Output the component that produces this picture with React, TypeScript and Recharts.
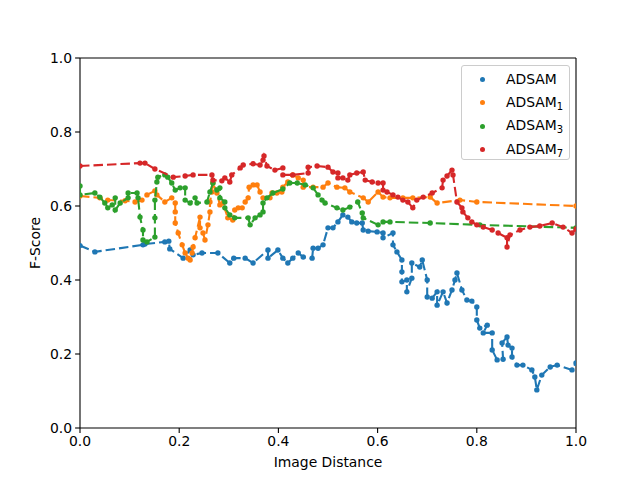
import React from "react";
import {
  ScatterChart, Scatter, XAxis, YAxis, ReferenceLine, Label,
} from "recharts";

const ticks = [0, 0.2, 0.4, 0.6, 0.8, 1.0];

const adsam = [
  [0.0, 0.493], [0.03, 0.476], [0.127, 0.495], [0.131, 0.497], [0.171, 0.503],
  [0.179, 0.505], [0.181, 0.484], [0.208, 0.459], [0.222, 0.481], [0.228, 0.468],
  [0.246, 0.473], [0.278, 0.473], [0.302, 0.446], [0.31, 0.459], [0.333, 0.459],
  [0.349, 0.446], [0.379, 0.481], [0.379, 0.459], [0.399, 0.481], [0.409, 0.459],
  [0.419, 0.446], [0.429, 0.459], [0.44, 0.473], [0.45, 0.462], [0.468, 0.459],
  [0.47, 0.486], [0.48, 0.486], [0.49, 0.495], [0.5, 0.541], [0.51, 0.541],
  [0.52, 0.557], [0.53, 0.576], [0.54, 0.57], [0.548, 0.557], [0.558, 0.554],
  [0.569, 0.554], [0.571, 0.535], [0.581, 0.532], [0.599, 0.53], [0.611, 0.527],
  [0.611, 0.514], [0.631, 0.527], [0.631, 0.495], [0.639, 0.476], [0.649, 0.454],
  [0.649, 0.422], [0.649, 0.395], [0.659, 0.4], [0.659, 0.368], [0.669, 0.405],
  [0.669, 0.446], [0.685, 0.435], [0.69, 0.454], [0.7, 0.4], [0.7, 0.354],
  [0.71, 0.351], [0.72, 0.368], [0.72, 0.332], [0.732, 0.368], [0.74, 0.338],
  [0.75, 0.373], [0.756, 0.4], [0.76, 0.419], [0.77, 0.373], [0.78, 0.346],
  [0.79, 0.343], [0.8, 0.327], [0.8, 0.292], [0.806, 0.27], [0.821, 0.278],
  [0.813, 0.257], [0.831, 0.257], [0.831, 0.211], [0.841, 0.184], [0.853, 0.186],
  [0.851, 0.23], [0.861, 0.246], [0.863, 0.224], [0.871, 0.216], [0.871, 0.192],
  [0.881, 0.17], [0.893, 0.17], [0.911, 0.157], [0.917, 0.138], [0.921, 0.103],
  [0.931, 0.143], [0.948, 0.165], [0.962, 0.17], [0.992, 0.157], [1.0, 0.176],
];

const adsam1 = [
  [0.0, 0.627], [0.04, 0.622], [0.056, 0.616], [0.091, 0.614], [0.111, 0.611],
  [0.125, 0.616], [0.135, 0.63], [0.151, 0.641], [0.155, 0.63], [0.171, 0.611],
  [0.185, 0.622], [0.192, 0.608], [0.192, 0.584], [0.192, 0.554], [0.198, 0.527],
  [0.206, 0.495], [0.212, 0.473], [0.218, 0.459], [0.222, 0.454], [0.226, 0.473],
  [0.228, 0.489], [0.232, 0.514], [0.242, 0.57], [0.242, 0.541], [0.248, 0.527],
  [0.252, 0.508], [0.258, 0.549], [0.262, 0.584], [0.262, 0.611], [0.266, 0.638],
  [0.268, 0.662], [0.276, 0.635], [0.282, 0.603], [0.288, 0.608], [0.298, 0.568],
  [0.308, 0.562], [0.312, 0.589], [0.319, 0.595], [0.327, 0.595], [0.333, 0.611],
  [0.339, 0.622], [0.341, 0.651], [0.349, 0.657], [0.357, 0.657], [0.363, 0.638],
  [0.369, 0.622], [0.383, 0.622], [0.387, 0.635], [0.397, 0.635], [0.407, 0.638],
  [0.409, 0.651], [0.419, 0.665], [0.429, 0.684], [0.44, 0.676], [0.45, 0.67],
  [0.45, 0.651], [0.47, 0.651], [0.49, 0.651], [0.5, 0.662], [0.518, 0.651],
  [0.534, 0.649], [0.544, 0.638], [0.571, 0.622], [0.581, 0.611], [0.601, 0.638],
  [0.611, 0.624], [0.625, 0.622], [0.651, 0.622], [0.671, 0.622], [0.706, 0.624],
  [0.72, 0.608], [0.766, 0.616], [0.8, 0.611], [1.0, 0.6],
];

const adsam3 = [
  [0.0, 0.654], [0.0, 0.63], [0.03, 0.635], [0.04, 0.624], [0.05, 0.608],
  [0.056, 0.595], [0.065, 0.603], [0.071, 0.622], [0.071, 0.589], [0.081, 0.608],
  [0.097, 0.622], [0.097, 0.635], [0.115, 0.635], [0.117, 0.622], [0.121, 0.57],
  [0.127, 0.535], [0.127, 0.508], [0.135, 0.503], [0.151, 0.516], [0.151, 0.568],
  [0.151, 0.616], [0.155, 0.665], [0.157, 0.678], [0.171, 0.684], [0.177, 0.678],
  [0.185, 0.662], [0.192, 0.643], [0.202, 0.649], [0.212, 0.649], [0.212, 0.616],
  [0.222, 0.608], [0.232, 0.622], [0.236, 0.608], [0.256, 0.611], [0.262, 0.638],
  [0.268, 0.662], [0.276, 0.643], [0.282, 0.649], [0.282, 0.622], [0.292, 0.611],
  [0.292, 0.595], [0.302, 0.576], [0.312, 0.568], [0.339, 0.568], [0.343, 0.549],
  [0.353, 0.568], [0.363, 0.576], [0.369, 0.584], [0.369, 0.608], [0.377, 0.622],
  [0.389, 0.635], [0.409, 0.646], [0.423, 0.662], [0.438, 0.662], [0.454, 0.657],
  [0.47, 0.649], [0.48, 0.63], [0.488, 0.616], [0.494, 0.608], [0.518, 0.595],
  [0.53, 0.589], [0.544, 0.597], [0.56, 0.611], [0.569, 0.581], [0.571, 0.568],
  [0.601, 0.549], [0.611, 0.557], [0.625, 0.557], [0.706, 0.554], [0.806, 0.549],
  [1.0, 0.541],
];

const adsam7 = [
  [0.0, 0.708], [0.121, 0.716], [0.131, 0.716], [0.151, 0.7], [0.188, 0.678],
  [0.212, 0.681], [0.228, 0.684], [0.266, 0.684], [0.268, 0.67], [0.286, 0.668],
  [0.292, 0.676], [0.302, 0.665], [0.306, 0.684], [0.323, 0.703], [0.329, 0.711],
  [0.349, 0.714], [0.363, 0.711], [0.369, 0.724], [0.371, 0.735], [0.377, 0.708],
  [0.393, 0.697], [0.409, 0.703], [0.409, 0.684], [0.429, 0.684], [0.46, 0.689],
  [0.46, 0.705], [0.478, 0.708], [0.5, 0.705], [0.51, 0.692], [0.52, 0.689],
  [0.52, 0.676], [0.53, 0.676], [0.54, 0.67], [0.544, 0.684], [0.558, 0.689],
  [0.571, 0.692], [0.575, 0.67], [0.589, 0.665], [0.601, 0.662], [0.611, 0.662],
  [0.611, 0.643], [0.619, 0.638], [0.631, 0.63], [0.641, 0.624], [0.651, 0.616],
  [0.661, 0.611], [0.671, 0.595], [0.679, 0.616], [0.692, 0.624], [0.71, 0.635],
  [0.73, 0.649], [0.732, 0.67], [0.74, 0.681], [0.75, 0.697], [0.752, 0.684],
  [0.76, 0.611], [0.77, 0.595], [0.772, 0.584], [0.782, 0.568], [0.79, 0.557],
  [0.8, 0.549], [0.813, 0.543], [0.831, 0.535], [0.843, 0.527], [0.861, 0.514],
  [0.861, 0.489], [0.867, 0.522], [0.887, 0.535], [0.907, 0.543], [0.927, 0.546],
  [0.952, 0.554], [0.974, 0.543], [0.992, 0.527], [1.0, 0.538],
];

const series = [
  { name: "ADSAM", sub: "", color: "#1f77b4", data: adsam },
  { name: "ADSAM", sub: "1", color: "#ff7f0e", data: adsam1 },
  { name: "ADSAM", sub: "3", color: "#2ca02c", data: adsam3 },
  { name: "ADSAM", sub: "7", color: "#d62728", data: adsam7 },
];

const font = "'DejaVu Sans', sans-serif";
const tickStyle = { fontSize: 13.9, fill: "#000", fontFamily: font };

const Dot = (props: any) => {
  const { cx, cy, fill } = props;
  if (cx == null || cy == null) return null;
  return <circle cx={cx} cy={cy} r={2.7} fill={fill} />;
};

export default function App() {
  return (
    <div style={{ position: "fixed", left: 0, top: 0, width: 640, height: 480, background: "#fff" }}>
      <ScatterChart width={640} height={480} margin={{ top: 58, right: 64, bottom: 0, left: 0 }}>
        <XAxis
          type="number"
          dataKey="x"
          domain={[0, 1]}
          ticks={ticks}
          tickFormatter={(v: number) => v.toFixed(1)}
          tick={tickStyle}
          height={52}
          tickSize={4.9}
          tickMargin={3}
          axisLine={{ stroke: "#000", strokeWidth: 1.1 }}
          tickLine={{ stroke: "#000", strokeWidth: 1.1 }}
          allowDataOverflow
        >
          <Label
            content={({ viewBox }: any) => (
              <text
                x={viewBox.x + viewBox.width / 2}
                y={viewBox.y + 39}
                textAnchor="middle"
                fontSize={13.9}
                fontFamily={font}
                fill="#000"
              >
                Image Distance
              </text>
            )}
          />
        </XAxis>
        <YAxis
          type="number"
          dataKey="y"
          domain={[0, 1]}
          ticks={ticks}
          tickFormatter={(v: number) => v.toFixed(1)}
          tick={tickStyle}
          width={80}
          tickSize={4.9}
          tickMargin={3}
          axisLine={{ stroke: "#000", strokeWidth: 1.1 }}
          tickLine={{ stroke: "#000", strokeWidth: 1.1 }}
          allowDataOverflow
        >
          <Label
            content={({ viewBox }: any) => {
              const cx = 40;
              const cy = viewBox.y + viewBox.height / 2;
              return (
                <text
                  x={cx}
                  y={cy}
                  transform={`rotate(-90, ${cx}, ${cy})`}
                  textAnchor="middle"
                  fontSize={13.9}
                  fontFamily={font}
                  fill="#000"
                >
                  F-Score
                </text>
              );
            }}
          />
        </YAxis>
        <ReferenceLine y={1} stroke="#000" strokeWidth={1.1} />
        <ReferenceLine x={1} stroke="#000" strokeWidth={1.1} />
        {series.map((s) => (
          <Scatter
            key={s.color}
            data={s.data.map(([x, y]) => ({ x, y }))}
            fill={s.color}
            line={{ stroke: s.color, strokeWidth: 2.1, strokeDasharray: "9.5 4" }}
            shape={<Dot fill={s.color} />}
            isAnimationActive={false}
          />
        ))}
      </ScatterChart>
      <div
        style={{
          position: "absolute",
          left: 461,
          top: 65,
          width: 107,
          height: 93,
          border: "1px solid #cccccc",
          borderRadius: 3,
          background: "rgba(255,255,255,0.8)",
          fontFamily: font,
          fontSize: 13.9,
        }}
      >
        {series.map((s, i) => (
          <div
            key={s.color}
            style={{ position: "absolute", left: 0, top: 3 + i * 23.5, height: 20, display: "flex", alignItems: "center" }}
          >
            <span
              style={{
                position: "absolute",
                left: 18,
                width: 5,
                height: 5,
                borderRadius: "50%",
                background: s.color,
              }}
            />
            <span style={{ position: "absolute", left: 44, whiteSpace: "nowrap", color: "#000" }}>
              {s.name}
              {s.sub && <sub style={{ fontSize: 10, verticalAlign: -3 }}>{s.sub}</sub>}
            </span>
          </div>
        ))}
      </div>
    </div>
  );
}
